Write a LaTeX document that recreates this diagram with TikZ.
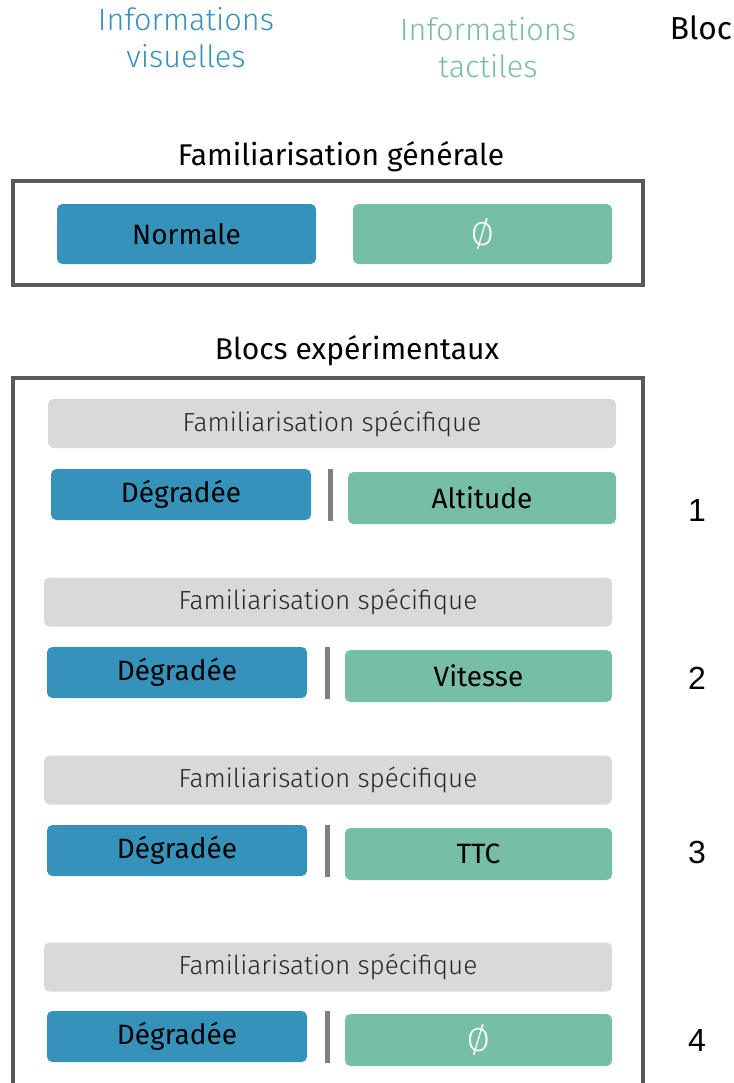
\documentclass[tikz,border=0pt]{standalone}
\usepackage{fontspec}
\setmainfont{Fira Sans}
\newfontfamily\lightfont{Fira Sans Light}
\newfontfamily\numfont{Liberation Sans}
\definecolor{vblue}{HTML}{3593BB}
\definecolor{tgreen}{HTML}{76BEA6}
\definecolor{lgray}{HTML}{D9D9D9}
\definecolor{frame}{HTML}{595959}
\definecolor{sepgray}{HTML}{7F7F7F}
\definecolor{txtgray}{HTML}{262626}
\begin{document}
\begin{tikzpicture}[x=0.75pt,y=-0.75pt,
  vbox/.style={fill=vblue,rounded corners=4pt,minimum width=195pt,minimum height=38.25pt,inner sep=0pt,font=\fontsize{21}{24}\selectfont,text=black},
  tbox/.style={fill=tgreen,rounded corners=4pt,minimum width=201pt,minimum height=39pt,inner sep=0pt,font=\fontsize{21}{24}\selectfont,text=black},
  fambox/.style={fill=lgray,rounded corners=4pt,minimum width=426pt,minimum height=36.75pt,inner sep=0pt,font=\lightfont\fontsize{19.6}{22}\selectfont,text=txtgray},
  empty/.style={font=\lightfont\fontsize{25}{28}\selectfont,text=white},
  sepbar/.style={draw=sepgray,line width=3.75pt},
  framebox/.style={draw=frame,line width=3pt},
  title/.style={font=\fontsize{22.5}{26}\selectfont,text=black,inner sep=0pt},
  head/.style={font=\lightfont\fontsize{23}{27.75}\selectfont,align=center,inner sep=0pt},
  num/.style={font=\numfont\fontsize{24}{28}\selectfont,inner sep=0pt}]
\useasboundingbox (0,0) rectangle (734,1083);
% headers
\node[head,text=vblue] (hv) at (186,38) {Informations\\visuelles};
\node[head,text=tgreen] (ht) at (488,48) {Informations\\tactiles};
\node[title,font=\fontsize{23.8}{26}\selectfont] (hb) at (701,28) {Bloc};
% general familiarisation
\node[title] (tg) at (341,157) {Familiarisation générale};
\draw[framebox] (13,181) rectangle (643,285);
\node[vbox,minimum height=45pt,minimum width=194.25pt] (norm) at (186.5,234) {Normale};
\node[tbox,minimum height=45pt,minimum width=194.25pt,empty] (g0) at (482.5,234) {Ø};
% experimental blocks
\node[title] (te) at (357,351) {Blocs expérimentaux};
\draw[framebox] (13,1095) -- (13,378) -- (643,378) -- (643,1095);
% row 1
\node[fambox] (f1) at (332,423.5) {Familiarisation spécifique};
\node[vbox,minimum width=195pt] (d1) at (181,494.5) {\raisebox{-2pt}{Dégradée}};
\draw[sepbar] (330,469) -- (330,521);
\node[tbox] (a1) at (482,498) {Altitude};
\node[num] (n1) at (697,510) {1};
% row 2
\node[fambox] (f2) at (328,602) {Familiarisation spécifique};
\node[vbox] (d2) at (177,672.5) {\raisebox{-2pt}{Dégradée}};
\draw[sepbar] (327,647) -- (327,699);
\node[tbox,minimum width=200.25pt] (a2) at (478.5,676) {Vitesse};
\node[num] (n2) at (697,678) {2};
% row 3
\node[fambox] (f3) at (328,780) {Familiarisation spécifique};
\node[vbox] (d3) at (177,850.5) {\raisebox{-2pt}{Dégradée}};
\draw[sepbar] (327,825) -- (327,877);
\node[tbox,minimum width=200.25pt] (a3) at (478.5,854) {TTC};
\node[num] (n3) at (697,852) {3};
% row 4
\node[fambox] (f4) at (328,967) {Familiarisation spécifique};
\node[vbox] (d4) at (177,1036.5) {\raisebox{-2pt}{Dégradée}};
\draw[sepbar] (327,1011) -- (327,1063);
\node[tbox,minimum width=200.25pt,empty] (a4) at (478.5,1040) {Ø};
\node[num] (n4) at (697,1040) {4};
\end{tikzpicture}
\end{document}
